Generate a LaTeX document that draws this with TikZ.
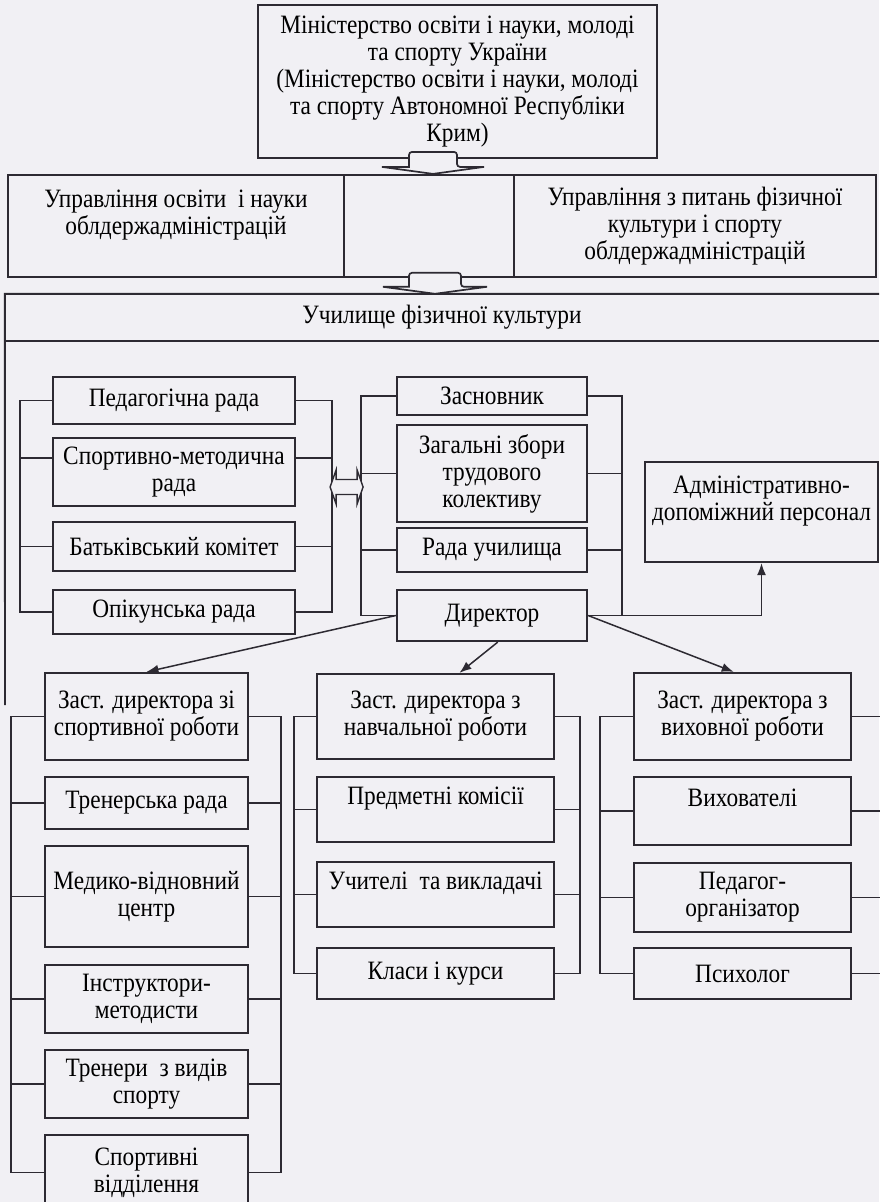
\documentclass[tikz,border=0pt]{standalone}
\usepackage{fontspec}
\setmainfont{Liberation Serif}[FakeStretch=0.88]
\usepackage{tikz}
\usetikzlibrary{shapes,arrows,arrows.meta,positioning,calc}
\definecolor{paper}{RGB}{241,240,244}
\definecolor{ink}{RGB}{45,42,50}
\tikzset{
block/.style = {draw=ink, rectangle, line width=2.2pt, align=center, inner sep=0pt},
frame/.style = {rectangle, align=center, inner sep=0pt},
link/.style = {draw=ink, line width=1.9pt},
ptr/.style = {draw=ink, line width=1.5pt, ->},
fat/.style = {draw=ink, fill=paper, line width=1.7pt}
}

\begin{document}
\begin{tikzpicture}[x=1pt, y=-1pt, >={Latex[length=12pt,width=9pt]}, font=\fontsize{26.5}{27}\selectfont]
\path[use as bounding box, fill=paper] (0,0) rectangle (879,1202);
\node[block, minimum width=399pt, minimum height=153pt] (min) at (457.5,81.5) {Міністерство освіти і науки, молоді\\та спорту України\\(Міністерство освіти і науки, молоді\\та спорту Автономної Республіки\\Крим)};
\node[block, minimum width=336pt, minimum height=102pt] (uosv) at (176,226) {Управління освіти \ і науки\\облдержадміністрацій\\~};
\node[block, minimum width=170pt, minimum height=102pt, right of=uosv, node distance=253pt] (umid) {};
\node[block, minimum width=362pt, minimum height=102pt, right of=umid, node distance=266pt] (ufk) {Управління з питань фізичної\\культури і спорту\\облдержадміністрацій};
\node[frame, minimum width=874pt, minimum height=47pt] (uch) at (442,317.5) {Училище фізичної культури};
\coordinate (fbot) at (5,705);
\node[block, minimum width=242pt, minimum height=47pt] (ped) at (174,400.5) {Педагогічна рада};
\node[block, minimum width=242pt, minimum height=68pt, below of=ped, node distance=71.5pt] (spmet) {Спортивно-методична\\рада};
\node[block, minimum width=242pt, minimum height=49pt, below of=spmet, node distance=74.5pt] (batk) {Батьківський комітет};
\node[block, minimum width=242pt, minimum height=44pt, below of=batk, node distance=65.5pt] (opik) {Опікунська рада};
\node[block, minimum width=190pt, minimum height=38pt] (zasn) at (492,396) {Засновник};
\node[block, minimum width=190pt, minimum height=97pt, below of=zasn, node distance=77.5pt] (zbory) {Загальні збори\\трудового\\колективу};
\node[block, minimum width=190pt, minimum height=44pt, below of=zbory, node distance=76.5pt] (rada) {Рада училища};
\node[block, minimum width=190pt, minimum height=51pt, below of=rada, node distance=65.5pt] (dyr) {Директор};
\node[block, minimum width=233pt, minimum height=100pt] (admin) at (761.5,512) {Адміністративно-\\допоміжний персонал\\~};
\node[block, minimum width=203pt, minimum height=87pt] (zsp) at (146.5,716.5) {Заст. директора зі\\спортивної роботи};
\node[block, minimum width=237pt, minimum height=85pt, right of=zsp, node distance=289pt] (znav) {Заст. директора з\\навчальної роботи};
\node[block, minimum width=217pt, minimum height=87pt, right of=znav, node distance=307pt] (zvyh) {Заст. директора з\\виховної роботи};
\node[block, minimum width=203pt, minimum height=52pt, below of=zsp, node distance=86.5pt] (trad) {Тренерська рада};
\node[block, minimum width=203pt, minimum height=101pt, below of=trad, node distance=93.5pt] (med) {Медико-відновний\\центр};
\node[block, minimum width=203pt, minimum height=68pt, below of=med, node distance=102.5pt] (instr) {Інструктори-\\методисти};
\node[block, minimum width=203pt, minimum height=68pt, below of=instr, node distance=85pt] (tren) {Тренери \ з видів\\спорту};
\node[block, minimum width=203pt, minimum height=75pt, below of=tren, node distance=88.5pt] (vidd) {Спортивні\\відділення};
\node[block, minimum width=237pt, minimum height=65pt, below of=znav, node distance=93pt] (pred) {Предметні комісії\\~};
\node[block, minimum width=237pt, minimum height=65pt, below of=pred, node distance=85pt] (uviv) {Учителі \ та викладачі\\~};
\node[block, minimum width=237pt, minimum height=51pt, below of=uviv, node distance=79pt] (klas) {Класи і курси};
\node[block, minimum width=217pt, minimum height=68pt, below of=zvyh, node distance=94.5pt] (vyh) {Вихователі\\~};
\node[block, minimum width=217pt, minimum height=69pt, below of=vyh, node distance=86.5pt] (pedorg) {Педагог-\\організатор};
\node[block, minimum width=217pt, minimum height=51pt, below of=pedorg, node distance=76pt] (psyh) {Психолог};
\draw[link] (uch.south east) -- (uch.south west);
\draw[link] (uch.north east) -- (uch.north west) -- (fbot);
\coordinate (t1) at ($(umid.north)+(4,0)$);
\draw[fat] (t1) -- ++(-51,-7) -- ++(27,0) [rounded corners=3pt] -- ++(0,-15) -- ++(48,0) -- ++(0,15) [sharp corners] -- ++(27,0) -- cycle;
\coordinate (t2) at ($(uch.north)+(-7,0)$);
\draw[fat] (t2) -- ++(-52,-7) -- ++(26,0) [rounded corners=3pt] -- ++(0,-14) -- ++(52,0) -- ++(0,14) [sharp corners] -- ++(26,0) -- cycle;
\draw[link] (ped.west) -- ++(-32,0) |- (opik.west);
\draw[link] ($(spmet.west)+(0,-14)$) -- ++(-32,0);
\draw[link] (batk.west) -- ++(-32,0);
\draw[link] (ped.east) -- ++(36,0) |- (opik.east);
\draw[link] ($(spmet.east)+(0,-14)$) -- ++(36,0);
\draw[link] (batk.east) -- ++(36,0);
\draw[link] (zasn.west) -- ++(-35,0) |- (dyr.west);
\draw[link] (zasn.east) -- ++(34,0) |- (dyr.east);
\foreach \n in {zbory,rada} {
  \draw[link] (\n.west) -- ++(-35,0);
  \draw[link] (\n.east) -- ++(34,0);
}
\coordinate (dl) at ($(spmet.east)+(34,15)$);
\draw[fat, line width=1.4pt] (dl) -- ++(6,-17) -- ++(0,9.5) -- ++(21,0) -- ++(0,-9.5) -- ++(6,17) -- ++(-6,17) -- ++(0,-9.5) -- ++(-21,0) -- ++(0,9.5) -- cycle;
\draw[ptr] (dyr.east) -| (admin.south);
\draw[ptr] (dyr.west) -- (zsp.north);
\draw[ptr] ($(dyr.south west)!0.53!(dyr.south east)$) -- ($(znav.north west)!0.6!(znav.north east)$);
\draw[ptr] (dyr.east) -- ($(zvyh.north west)!0.46!(zvyh.north east)$);
\draw[link] (zsp.west) -- ++(-33,0) |- (vidd.west);
\draw[link] (zsp.east) -- ++(32,0) |- (vidd.east);
\foreach \n in {trad,med,instr,tren} {
  \draw[link] (\n.west) -- ++(-33,0);
  \draw[link] (\n.east) -- ++(32,0);
}
\draw[link] (znav.west) -- ++(-22,0) |- (klas.west);
\draw[link] (znav.east) -- ++(25,0) |- (klas.east);
\foreach \n in {pred,uviv} {
  \draw[link] (\n.west) -- ++(-22,0);
  \draw[link] (\n.east) -- ++(25,0);
}
\draw[link] (zvyh.west) -- ++(-33,0) |- (psyh.west);
\foreach \n in {vyh,pedorg} \draw[link] (\n.west) -- ++(-33,0);
\foreach \n in {zvyh,vyh,pedorg,psyh} \draw[link] (\n.east) -- ++(30,0);
\end{tikzpicture}
\end{document}
